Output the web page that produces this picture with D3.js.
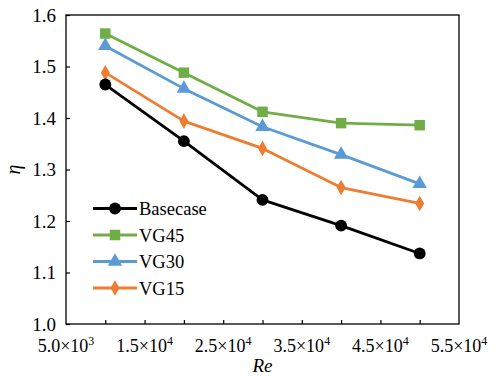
<!DOCTYPE html>
<html>
<head>
<meta charset="utf-8">
<script src="https://cdn.jsdelivr.net/npm/d3@7"></script>
<style>
  html, body { margin: 0; padding: 0; background: #fff; }
</style>
</head>
<body>
<svg id="chart" width="496" height="376"></svg>
<script>
// Reynolds numbers of the tested cases
const reValues = [10000, 20000, 30000, 40000, 50000];

// Thermal performance factor for each configuration
const basecase = [1.465, 1.355, 1.241, 1.191, 1.137];
const vg45 = [1.564, 1.488, 1.412, 1.390, 1.386];
const vg30 = [1.540, 1.457, 1.383, 1.329, 1.272];
const vg15 = [1.488, 1.394, 1.341, 1.265, 1.234];

const seriesNames = ["Basecase", "VG45", "VG30", "VG15"];

// Axis tick values and labels
const xTickMarks = [10000, 15000, 20000, 25000, 30000, 35000, 40000, 45000, 50000];
const xLabelValues = [5000, 15000, 25000, 35000, 45000, 55000];
const xLabelMantissa = ["5.0", "1.5", "2.5", "3.5", "4.5", "5.5"];
const xLabelExponent = ["3", "4", "4", "4", "4", "4"];
const yTicks = [1.0, 1.1, 1.2, 1.3, 1.4, 1.5, 1.6];

const series = [
  { name: seriesNames[0], values: basecase, color: "#000000", symbol: d3.symbolCircle, size: 110 },
  { name: seriesNames[1], values: vg45, color: "#70AD47", symbol: d3.symbolSquare, size: 110 },
  { name: seriesNames[2], values: vg30, color: "#5B9BD5", symbol: d3.symbolTriangle, size: 90 },
  { name: seriesNames[3], values: vg15, color: "#ED7D31", symbol: d3.symbolDiamond, size: 70 }
];

const FONT = "Liberation Serif";
const svg = d3.select("#chart");
const plot = { left: 66, right: 459, top: 15, bottom: 324 };

const x = d3.scaleLinear().domain([5000, 55000]).range([plot.left, plot.right]);
const y = d3.scaleLinear().domain([1.0, 1.6]).range([plot.bottom, plot.top]);

// Frame around the plot area
svg.append("rect")
  .attr("x", plot.left).attr("y", plot.top)
  .attr("width", plot.right - plot.left).attr("height", plot.bottom - plot.top)
  .attr("fill", "none").attr("stroke", "#000").attr("stroke-width", 1.3);

// Y axis: inward ticks; labels drawn separately on the left
const yAxis = d3.axisLeft(y).tickValues(yTicks).tickSize(-4).tickFormat("");
const gy = svg.append("g").attr("transform", `translate(${plot.left},0)`).call(yAxis);
gy.select(".domain").remove();
gy.selectAll(".tick line").attr("stroke", "#000").attr("stroke-width", 1.2);
gy.selectAll("text").remove();

svg.append("g").selectAll("text").data(yTicks).join("text")
  .attr("x", plot.left - 10).attr("y", d => y(d) + 6.5)
  .attr("text-anchor", "end")
  .attr("font-family", FONT).attr("font-size", 19).attr("fill", "#000")
  .text(d3.format(".1f"));

// X axis: inward tick marks every 5000
const xAxis = d3.axisBottom(x).tickValues(xTickMarks).tickSize(-4).tickFormat("");
const gx = svg.append("g").attr("transform", `translate(0,${plot.bottom})`).call(xAxis);
gx.select(".domain").remove();
gx.selectAll(".tick line").attr("stroke", "#000").attr("stroke-width", 1.2);
gx.selectAll("text").remove();

// X labels in scientific notation with superscript exponent
const xl = svg.append("g");
xLabelValues.forEach((v, i) => {
  const t = xl.append("text")
    .attr("x", x(v)).attr("y", 352)
    .attr("text-anchor", "middle")
    .attr("font-family", FONT).attr("font-size", 18).attr("fill", "#000");
  t.append("tspan").attr("font-family", FONT).text(xLabelMantissa[i] + "×10");
  t.append("tspan").attr("font-family", FONT).attr("font-size", 12).attr("dy", -7)
    .text(xLabelExponent[i]);
});

// Axis titles
svg.append("text")
  .attr("x", (plot.left + plot.right) / 2).attr("y", 372)
  .attr("text-anchor", "middle")
  .attr("font-family", FONT).attr("font-size", 19).attr("font-style", "italic")
  .text("Re");
svg.append("text")
  .attr("transform", `translate(20,${(plot.top + plot.bottom) / 2}) rotate(-90)`)
  .attr("text-anchor", "middle")
  .attr("font-family", FONT).attr("font-size", 20).attr("font-style", "italic")
  .text("η");

// Series lines and markers
const line = d3.line().x((d, i) => x(reValues[i])).y(d => y(d));
const drawOrder = [1, 2, 3, 0];
drawOrder.forEach(k => {
  const s = series[k];
  svg.append("path").datum(s.values)
    .attr("d", line).attr("fill", "none")
    .attr("stroke", s.color).attr("stroke-width", 2.8).attr("stroke-linejoin", "round");
  svg.append("g").selectAll("path").data(s.values).join("path")
    .attr("transform", (d, i) => `translate(${x(reValues[i])},${y(d)})`)
    .attr("d", d3.symbol(s.symbol, s.size))
    .attr("fill", s.color);
});

// Legend
const legend = svg.append("g");
series.forEach((s, i) => {
  const ly = 208.5 + i * 26.5;
  legend.append("line")
    .attr("x1", 93).attr("x2", 137).attr("y1", ly).attr("y2", ly)
    .attr("stroke", s.color).attr("stroke-width", 2.8);
  legend.append("path")
    .attr("transform", `translate(115,${ly})`)
    .attr("d", d3.symbol(s.symbol, s.size))
    .attr("fill", s.color);
  legend.append("text")
    .attr("x", 139).attr("y", ly + 6.5)
    .attr("font-family", FONT).attr("font-size", 18.5).attr("fill", "#000")
    .text(s.name);
});
</script>
</body>
</html>
